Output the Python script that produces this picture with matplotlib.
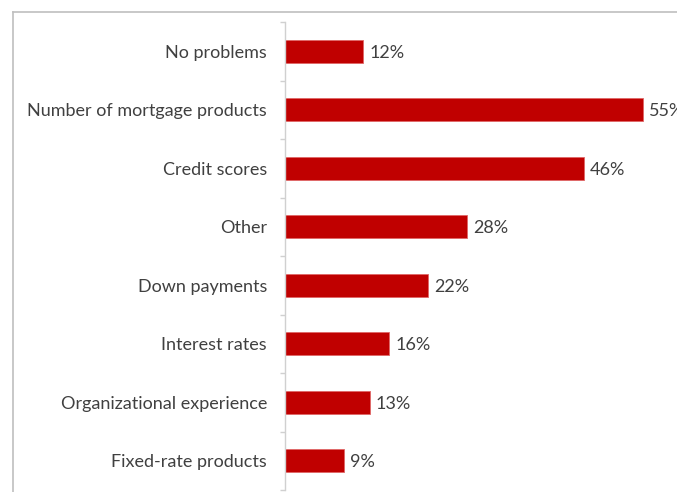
import matplotlib
matplotlib.use("Agg")
import matplotlib.pyplot as plt
from matplotlib.lines import Line2D

plt.rcParams['font.family'] = ['Lato', 'DejaVu Sans']

categories = ["No problems", "Number of mortgage products", "Credit scores", "Other",
              "Down payments", "Interest rates", "Organizational experience",
              "Fixed-rate products"]
values = [12, 55, 46, 28, 22, 16, 13, 9]

W, H = 677, 492
fig = plt.figure(figsize=(W / 100, H / 100), dpi=100)

# plot area: axis line at x=285px, spans y=22..490px
ax = fig.add_axes([285 / W, 2 / H, (W - 285) / W, 468 / H])
y = list(range(len(categories)))
ax.barh(y, values, height=0.39, color="#C00000", edgecolor="#E06666", linewidth=0.6)
ax.set_xlim(0, (W - 285) / 6.5)
ax.set_ylim(len(categories) - 0.5, -0.5)

for yi, v in zip(y, values):
    ax.annotate(f"{v}%", (v, yi), xytext=(4.5, -1), textcoords="offset points",
                va="center", ha="left", fontsize=13, color="#404040")

ax.set_yticks(y)
ax.set_yticklabels(categories, fontsize=13, color="#404040")
ax.tick_params(axis="y", which="major", length=0, pad=13)
ax.set_yticks([i - 0.5 for i in range(len(categories) + 1)], minor=True)
ax.tick_params(axis="y", which="minor", length=3.6, color="#D0D0D0", width=1)
ax.set_xticks([])
for s in ["top", "right", "bottom"]:
    ax.spines[s].set_visible(False)
ax.spines["left"].set_color("#D0D0D0")
ax.spines["left"].set_linewidth(1)

# outer frame of the chart area (top and left edges)
fig.add_artist(Line2D([13 / W, 1], [1 - 12 / H, 1 - 12 / H], color="#BFBFBF", lw=1.2,
                      transform=fig.transFigure))
fig.add_artist(Line2D([13 / W, 13 / W], [0, 1 - 12 / H], color="#BFBFBF", lw=1.2,
                      transform=fig.transFigure))

fig.savefig("out.png", dpi=100)
